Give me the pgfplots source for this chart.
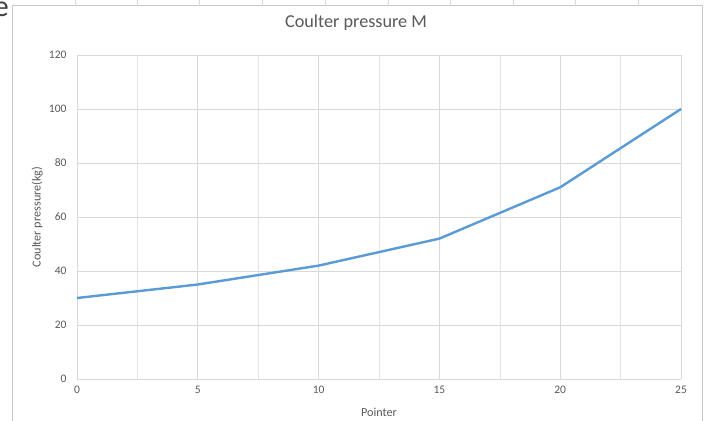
\documentclass[border=0pt]{standalone}
\usepackage{pgfplots}
\pgfplotsset{compat=1.18}
\usepackage{fontspec}
\setmainfont{Carlito}
\definecolor{linecol}{HTML}{5B9BD5}
\definecolor{gridcol}{HTML}{D9D9D9}
\definecolor{txtcol}{HTML}{595959}
\begin{document}
\begin{tikzpicture}
\useasboundingbox (0,0) rectangle (708pt,420pt);
\fill[white] (0,0) rectangle (708pt,420pt);
% outer chart border and sheet grid marks
\draw[color=gridcol!80!gray, line width=1pt] (12pt,-2pt) -- (12pt,414pt) -- (702pt,414pt) -- (702pt,-2pt);
\foreach \xx in {75,137,199,262,325,388,450,513,575,638} {
  \draw[color=gridcol, line width=0.6pt] (\xx pt,414pt) -- (\xx pt,420pt);
}
\node[anchor=south east, inner sep=0pt, font=\fontsize{30}{30}\selectfont, text=black!75] at (9pt,403pt) {e};
\begin{axis}[
  at={(77pt,41pt)}, anchor=south west,
  scale only axis, width=604pt, height=324pt,
  xmin=0, xmax=25, ymin=0, ymax=120,
  xtick={0,5,...,25}, ytick={0,20,...,120},
  minor x tick num=1,
  grid=both,
  major grid style={color=gridcol, line width=0.7pt},
  minor grid style={color=gridcol!70, line width=0.6pt},
  axis line style={draw=none},
  axis x line*=bottom, axis y line*=left,
  x axis line style={draw=gridcol, line width=0.8pt},
  tick style={draw=none},
  tick label style={font=\fontsize{11.5}{12}\selectfont, text=txtcol},
  /pgf/number format/assume math mode=true,
  xticklabel style={yshift=-4pt},
  yticklabel style={xshift=-7pt},
  title={Coulter pressure M},
  title style={font=\fontsize{18.2}{20}\selectfont, text=txtcol, at={(axis description cs:0.462,1.080)}, anchor=center},
  xlabel={Pointer},
  ylabel={Coulter pressure(kg)},
  label style={font=\fontsize{12.2}{13}\selectfont, text=txtcol},
  xlabel style={at={(axis description cs:0.5,-0.102)}, anchor=center},
  ylabel style={at={(axis description cs:-0.066,0.5)}, anchor=center},
  clip=false,
]
\addplot[color=linecol, line width=2.4pt, line join=round] coordinates {
  (0,30) (5,35) (10,42) (15,52) (20,71) (25,100)
};
\end{axis}
\end{tikzpicture}
\end{document}
